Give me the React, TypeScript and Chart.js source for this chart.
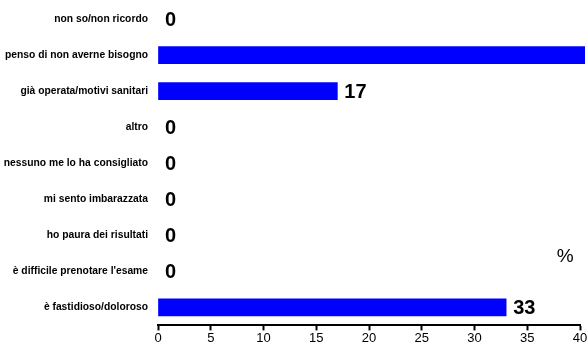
import React, { useEffect, useRef } from "react";
import { Chart, registerables } from "chart.js";

Chart.register(...registerables);

const categories = [
  "non so/non ricordo",
  "penso di non averne bisogno",
  "già operata/motivi sanitari",
  "altro",
  "nessuno me lo ha consigliato",
  "mi sento imbarazzata",
  "ho paura dei risultati",
  "è difficile prenotare l'esame",
  "è fastidioso/doloroso",
];
const values = [0, 50, 17, 0, 0, 0, 0, 0, 33];
const xTicks = [0, 5, 10, 15, 20, 25, 30, 35, 40];
const unitLabel = "%";

const valueLabels = {
  id: "valueLabels",
  afterDatasetsDraw(chart: any) {
    const { ctx, chartArea } = chart;
    const meta = chart.getDatasetMeta(0);
    const xs = chart.scales.x;
    ctx.save();
    ctx.font = "bold 20px 'Liberation Sans', Arial, sans-serif";
    ctx.fillStyle = "#000";
    ctx.textAlign = "left";
    ctx.textBaseline = "middle";
    meta.data.forEach((bar: any, i: number) => {
      const v = values[i];
      if (v > xs.max) return;
      ctx.fillText(String(v), bar.x + 7, bar.y + 1);
    });
    ctx.font = "19px 'Liberation Sans', Arial, sans-serif";
    ctx.textAlign = "center";
    ctx.fillText(unitLabel, xs.getPixelForValue(38.6), chartArea.top + 256);
    ctx.restore();
  },
};

export default function App() {
  const ref = useRef<HTMLCanvasElement>(null);
  useEffect(() => {
    const chart = new Chart(ref.current!, {
      type: "bar",
      data: {
        labels: categories,
        datasets: [
          {
            data: values,
            backgroundColor: (c: any) => (c.raw === 0 ? "rgba(0,0,0,0)" : "#0000FF"),
            borderWidth: 0,
            barThickness: 17,
            clip: { left: 0, top: 0, right: 5, bottom: 0 } as any,
          },
        ],
      },
      options: {
        indexAxis: "y",
        responsive: false,
        animation: false,
        layout: { padding: { top: 1, right: 8, left: 0, bottom: 3 } },
        plugins: { legend: { display: false }, tooltip: { enabled: false } },
        scales: {
          x: {
            min: 0,
            max: 40,
            afterBuildTicks: (s: any) => {
              s.ticks = xTicks.map((v) => ({ value: v }));
            },
            grid: {
              display: true,
              drawOnChartArea: false,
              drawTicks: true,
              tickLength: 5,
              tickWidth: 2,
              color: "#000",
            },
            border: { display: true, color: "#000", width: 2 },
            ticks: {
              color: "#000",
              padding: 0,
              maxRotation: 0,
              font: { family: "'Liberation Sans', Arial, sans-serif", size: 13 },
            },
          },
          y: {
            afterFit: (s: any) => {
              s.width = 158;
              s.paddingTop = 0;
              s.paddingBottom = 0;
            },
            grid: { display: false, drawTicks: false },
            border: { display: false },
            ticks: {
              color: "#000",
              padding: 10,
              font: { family: "'Liberation Sans', Arial, sans-serif", size: 10.3, weight: "bold" },
            },
          },
        },
      },
      plugins: [valueLabels],
    });
    return () => chart.destroy();
  }, []);
  return (
    <div style={{ position: "absolute", left: 0, top: 0, width: 588, height: 349 }}>
      <canvas ref={ref} width={588} height={349} />
    </div>
  );
}
